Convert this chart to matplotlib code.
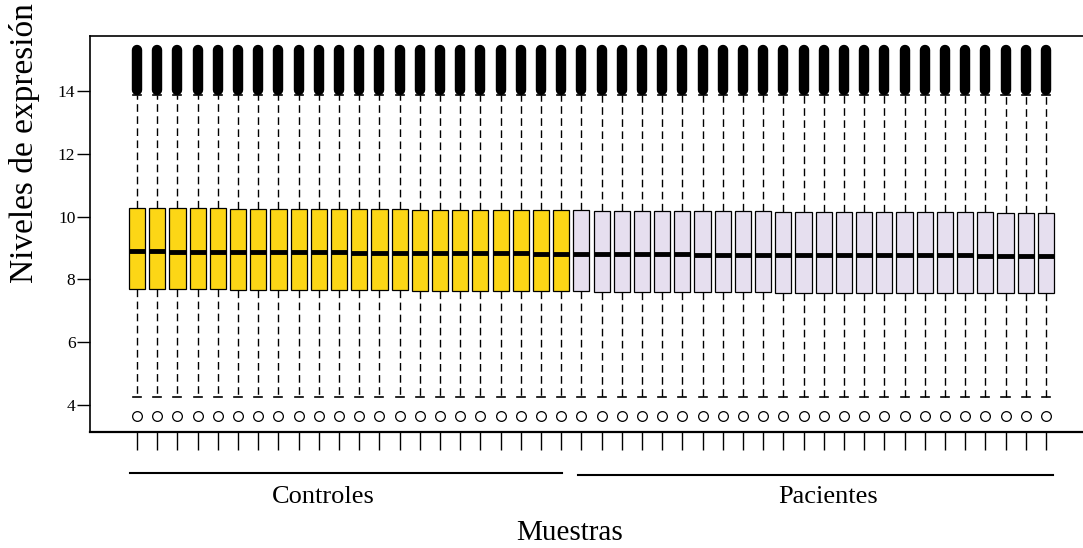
import matplotlib
matplotlib.use('Agg')
import matplotlib.pyplot as plt
import matplotlib.transforms as mtransforms

plt.rcParams['font.family'] = ['Liberation Serif', 'DejaVu Serif']

# groups
groups = ['Controles', 'Pacientes']
n_controles = 22
n_pacientes = 24

# box statistics (one value per sample)
medians = [8.89, 8.89, 8.88, 8.88, 8.88, 8.87, 8.87, 8.87, 8.86, 8.86, 8.86,
           8.85, 8.85, 8.85, 8.84, 8.84, 8.84, 8.83, 8.83, 8.83, 8.82, 8.82,
           8.81, 8.81, 8.81, 8.80, 8.80, 8.80, 8.79, 8.79, 8.79, 8.78, 8.78,
           8.78, 8.77, 8.77, 8.77, 8.77, 8.76, 8.76, 8.76, 8.76, 8.75, 8.75,
           8.75, 8.75]
q3 = [10.27, 10.27, 10.26, 10.26, 10.26, 10.25, 10.25, 10.25, 10.24, 10.24,
      10.24, 10.23, 10.23, 10.23, 10.22, 10.22, 10.22, 10.21, 10.21, 10.21,
      10.20, 10.20, 10.20, 10.19, 10.19, 10.19, 10.18, 10.18, 10.18, 10.17,
      10.17, 10.17, 10.16, 10.16, 10.16, 10.16, 10.15, 10.15, 10.15, 10.14,
      10.14, 10.14, 10.14, 10.13, 10.13, 10.13]
q1 = [7.69, 7.69, 7.68, 7.68, 7.68, 7.67, 7.67, 7.67, 7.66, 7.66, 7.66,
      7.65, 7.65, 7.65, 7.64, 7.64, 7.64, 7.63, 7.63, 7.63, 7.62, 7.62,
      7.62, 7.61, 7.61, 7.61, 7.60, 7.60, 7.60, 7.59, 7.59, 7.59, 7.58, 7.58,
      7.58, 7.58, 7.57, 7.57, 7.57, 7.57, 7.56, 7.56, 7.56, 7.56, 7.56, 7.56]
whisker_low = [4.25] * 46
whisker_high = [13.88] * 46
outlier_low = [3.63] * 46
outlier_high_min = [13.87] * 46
outlier_high_max = [15.49] * 46

colors = {'Controles': '#FCD616', 'Pacientes': '#E6DFEF'}

n = n_controles + n_pacientes
pos = list(range(1, n + 1))
labels = [groups[0]] * n_controles + [groups[1]] * n_pacientes

stats = []
for i in range(n):
    stats.append(dict(med=medians[i], q1=q1[i], q3=q3[i],
                      whislo=whisker_low[i], whishi=whisker_high[i],
                      fliers=[outlier_low[i]]))

fig = plt.figure(figsize=(10.83, 5.48), dpi=100)
ax = fig.add_axes([0.0831, 0.212, 0.925, 0.722])

bp = ax.bxp(stats, positions=pos, widths=0.8, patch_artist=True,
            capwidths=0.4,
            boxprops=dict(edgecolor='black', linewidth=0.9),
            medianprops=dict(color='black', linewidth=3.5),
            whiskerprops=dict(color='black', linewidth=1.0,
                              linestyle=(0, (5.5, 3.2))),
            capprops=dict(color='black', linewidth=1.2),
            flierprops=dict(marker='o', markersize=7, markerfacecolor='white',
                            markeredgecolor='black', markeredgewidth=0.9))
for patch, lab in zip(bp['boxes'], labels):
    patch.set_facecolor(colors[lab])

ax.set_xlim(-1.33, 48.27)
ax.set_ylim(3.14, 15.75)

# dense upper outliers drawn as a rounded band
lw_pt = 7.5
r = (lw_pt / 2) * 100 / 72 * (15.75 - 3.14) / (0.722 * 548)
ax.vlines(pos, [v + r for v in outlier_high_min],
          [v - r for v in outlier_high_max], color='black',
          linewidth=lw_pt, capstyle='round', zorder=3)

ax.set_yticks([4, 6, 8, 10, 12, 14])
ax.tick_params(axis='y', length=9.5, width=1, labelsize=12.5, pad=1)
ax.set_xticks(pos)
ax.set_xticklabels([])
ax.tick_params(axis='x', length=13, width=1)
ax.spines['right'].set_visible(False)
ax.spines['bottom'].set_linewidth(1.6)
ax.spines['left'].set_linewidth(1.2)
ax.spines['top'].set_linewidth(1.2)

# group brackets
trans = mtransforms.blended_transform_factory(ax.transData, ax.transAxes)
ax.plot([0.65, 22.05], [-0.104, -0.104], color='black', lw=1.5,
        transform=trans, clip_on=False)
ax.plot([22.85, 46.35], [-0.110, -0.110], color='black', lw=1.5,
        transform=trans, clip_on=False)
ax.text(10.2, -0.164, groups[0], transform=trans, ha='center', va='center',
        fontsize=19)
ax.text(35.2, -0.164, groups[1], transform=trans, ha='center', va='center',
        fontsize=19)
fig.text(570 / 1083, 1 - 533 / 548, 'Muestras', ha='center', va='center',
         fontsize=21)
fig.text(25 / 1083, 1 - 143 / 548, 'Niveles de expresión', rotation=90,
         ha='center', va='center', fontsize=24)

fig.savefig('out.png', dpi=100)
